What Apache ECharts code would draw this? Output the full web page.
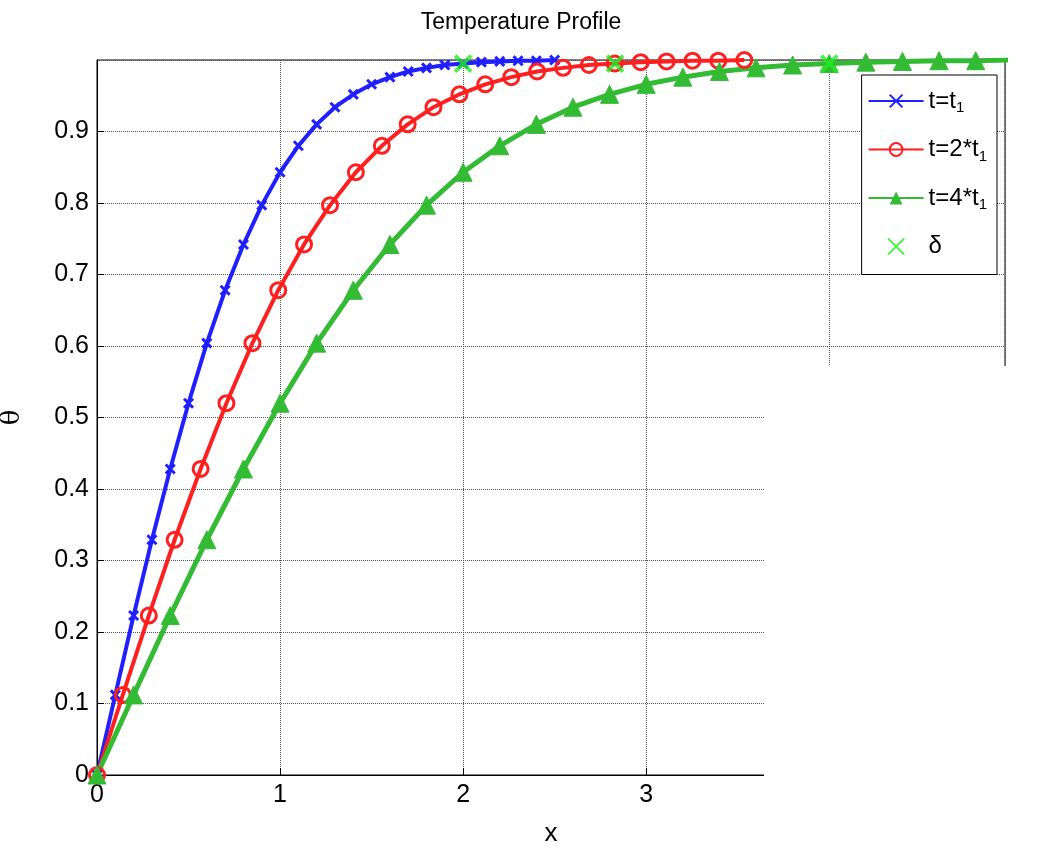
<!DOCTYPE html>
<html><head><meta charset="utf-8">
<script src="https://cdn.jsdelivr.net/npm/echarts@6/dist/echarts.min.js"></script>
<style>html,body{margin:0;background:#fff}#c{width:1042px;height:858px}</style>
</head><body><div id="c"></div>
<script>
// theta values (same shape, stretched in x)
const theta = [0, .112, .223, .329, .428, .520, .604, .678, .742, .797, .843, .880, .910, .934, .952, .966, .976, .984, .989, .993, .995, .997, .998, .999, .999, 1.000];
const xT1 = [0, .1, .2, .3, .4, .5, .6, .7, .8, .9, 1.0, 1.1, 1.2, 1.3, 1.4, 1.5, 1.6, 1.7, 1.8, 1.9, 2.0, 2.1, 2.2, 2.3, 2.4, 2.5];
const xT2 = [0, .141, .283, .424, .566, .707, .849, .990, 1.131, 1.273, 1.414, 1.556, 1.697, 1.838, 1.980, 2.121, 2.263, 2.404, 2.546, 2.687, 2.828, 2.970, 3.111, 3.253, 3.394, 3.536];
const xT4 = [0, .2, .4, .6, .8, 1.0, 1.2, 1.4, 1.6, 1.8, 2.0, 2.2, 2.4, 2.6, 2.8, 3.0, 3.2, 3.4, 3.6, 3.8, 4.0, 4.2, 4.4, 4.6, 4.8, 5.0];
const deltaX = [2.0, 2.83, 4.0];
const deltaY = [0.995, 0.995, 0.995];

const X = 'path://M0,0L10,10M10,0L0,10';
const zip = (xs, ys) => xs.map((x, i) => [x, ys[i]]);
const chart = echarts.init(document.getElementById('c'));
const rich = { s: { fontSize: 15, verticalAlign: 'bottom', padding: [14, 0, 0, 0], fontFamily: 'Liberation Sans' } };
const names = { 't1': '{a|t=t}{s|1}', 't2': '{a|t=2*t}{s|1}', 't4': '{a|t=4*t}{s|1}', 'd': '{a|δ}' };
chart.setOption({
  animation: false,
  title: { text: 'Temperature Profile', left: 'center', top: 6, textStyle: { fontSize: 23, fontWeight: 'normal', color: '#000', fontFamily: 'Liberation Sans' } },
  grid: { left: 97, right: 37, top: 60, bottom: 83, show: true, borderColor: '#000', borderWidth: 1, outerBoundsMode: 'none' },
  xAxis: {
    type: 'value', min: 0, max: 4.96, interval: 1, name: 'x', nameLocation: 'middle', nameGap: 46,
    nameTextStyle: { fontSize: 26, color: '#000', fontFamily: 'Liberation Sans' },
    axisLine: { lineStyle: { color: '#000' } }, axisTick: { inside: true, length: 7, lineStyle: { color: '#000' } },
    axisLabel: { fontSize: 25, color: '#000', fontFamily: 'Liberation Sans', margin: 8 },
    splitLine: { lineStyle: { type: 'dotted', color: '#555' } }
  },
  yAxis: {
    type: 'value', min: 0, max: 1, interval: 0.1, name: 'θ', nameLocation: 'middle', nameGap: 72,
    nameTextStyle: { fontSize: 26, color: '#000', fontFamily: 'DejaVu Serif' },
    axisLine: { lineStyle: { color: '#000' } }, axisTick: { inside: true, length: 7, lineStyle: { color: '#000' } },
    axisLabel: { fontSize: 25, color: '#000', fontFamily: 'Liberation Sans', margin: 8, showMaxLabel: false },
    splitLine: { lineStyle: { type: 'dotted', color: '#555' } }
  },
  legend: {
    orient: 'vertical', right: 45, top: 75, itemWidth: 55, itemHeight: 16, itemGap: 22,
    backgroundColor: '#fff', borderColor: '#000', borderWidth: 1, padding: [14, 10, 16, 6],
    formatter: n => names[n], textStyle: { fontSize: 24, color: '#000', fontFamily: 'Liberation Sans', rich: Object.assign({ a: { fontSize: 24 } }, rich) },
    data: ['t1', 't2', 't4', 'd']
  },
  series: [
    { name: 't1', type: 'line', data: zip(xT1, theta), lineStyle: { color: '#1f1fff', width: 4 }, symbol: X, symbolSize: 9,
      itemStyle: { color: '#1f1fff', borderColor: '#1f1fff', borderWidth: 3 } },
    { name: 't2', type: 'line', data: zip(xT2, theta), lineStyle: { color: '#ff1f1f', width: 4 }, symbol: 'circle', symbolSize: 15,
      itemStyle: { color: 'transparent', borderColor: '#ff1f1f', borderWidth: 3 } },
    { name: 't4', type: 'line', data: zip(xT4, theta), lineStyle: { color: '#33bb33', width: 5 }, symbol: 'triangle', symbolSize: 18,
      itemStyle: { color: '#33bb33', borderColor: '#33bb33' } },
    { name: 'd', type: 'scatter', data: zip(deltaX, deltaY), symbol: X, symbolSize: 16, z: 5,
      itemStyle: { color: '#22ee22', borderColor: '#22ee22', borderWidth: 4 } }
  ],
  graphic: [{ type: 'rect', shape: { x: 764, y: 366, width: 300, height: 500 }, style: { fill: '#fff' }, z: 100 }]
});
</script></body></html>
